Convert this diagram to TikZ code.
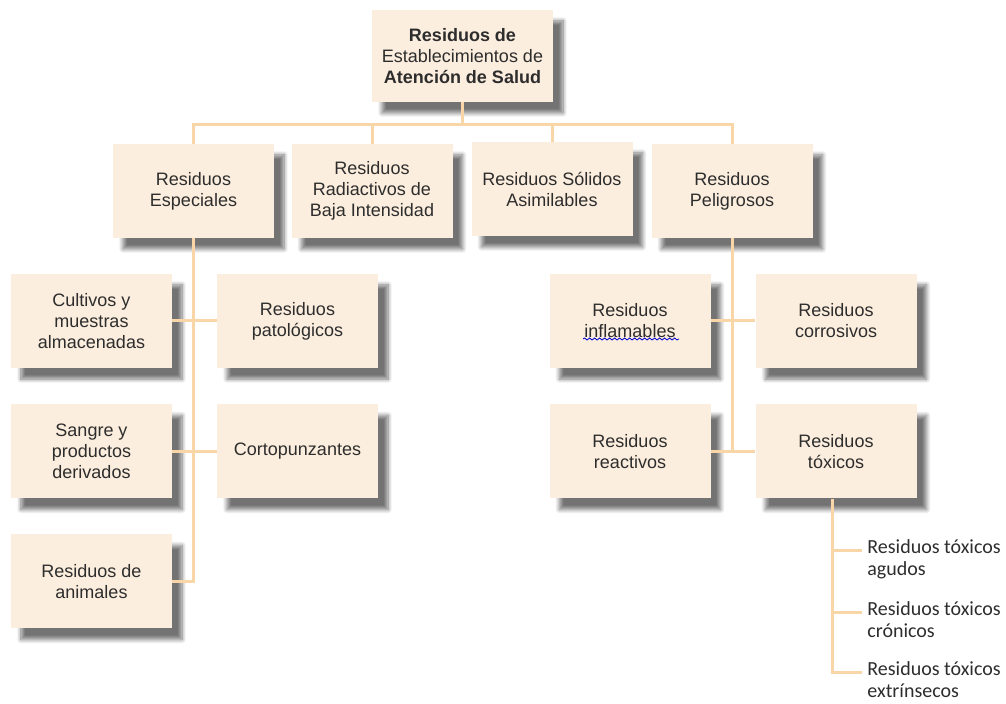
\documentclass[tikz,border=0pt]{standalone}
\usepackage{fontspec}
\setmainfont{Liberation Sans}
\newfontfamily\leaffont{Carlito}
\usetikzlibrary{shadows.blur,calc,decorations.pathmorphing}
\definecolor{boxfill}{RGB}{252,238,222}
\definecolor{linkcol}{RGB}{249,214,168}
\definecolor{inkgray}{RGB}{45,45,45}

\begin{document}
\begin{tikzpicture}[x=0.5pt,y=-0.5pt,inner sep=0pt,
                    font=\fontsize{9}{10.5}\selectfont]
  \tikzstyle{box}=[fill=boxfill,text=inkgray,align=center,minimum width=80.5pt,minimum height=47pt,
                   blur shadow={shadow xshift=5pt,shadow yshift=-5.5pt,shadow blur steps=8,shadow opacity=55}]
  \tikzstyle{link}=[draw=linkcol,line width=1.5pt]
  \tikzstyle{leaf}=[text=inkgray,align=left,anchor=north west,font=\leaffont\fontsize{10}{11}\selectfont]

  \useasboundingbox (0,0) rectangle (1006,704);

  % top
  \node[box,minimum width=90.5pt,minimum height=46pt] (root) at (462.5,56) {\textbf{Residuos de}\\Establecimientos de\\\textbf{Atención de Salud}};

  % second level
  \node[box] (esp) at (193.5,191) {Residuos\\Especiales};
  \node[box] (rad) at (372,191)   {Residuos\\Radiactivos de\\Baja Intensidad};
  \node[box] (sol) at (552,189)   {Residuos Sólidos\\Asimilables};
  \node[box] (pel) at (732,191)   {Residuos\\Peligrosos};

  % especiales
  \node[box] (cul) at (91.5,321)   {Cultivos y\\muestras\\almacenadas};
  \node[box] (pat) at (297.5,321)  {Residuos\\patológicos};
  \node[box] (san) at (91.5,451.5) {Sangre y\\productos\\derivados};
  \node[box] (cor) at (297.5,451.5){Cortopunzantes};
  \node[box] (ani) at (91.5,581.5) {Residuos de\\animales};

  % peligrosos
  \node[box] (inf) at (630,321)   {Residuos\\inflamables};
  \node[box] (crr) at (836,321)   {Residuos\\corrosivos};
  \node[box] (rea) at (630,451.5) {Residuos\\reactivos};
  \node[box] (tox) at (836,451.5) {Residuos\\tóxicos};

  % toxicos
  \node[leaf] (ag) at (867,539) {Residuos tóxicos\\agudos};
  \node[leaf] (cr) at (867,601) {Residuos tóxicos\\crónicos};
  \node[leaf] (ex) at (867,661) {Residuos tóxicos\\extrínsecos};

  \coordinate (bus) at (462.5,125);
  \draw[link] (root.south) -- (bus);
  \draw[link] (esp.north) |- (bus) -| (pel.north);
  \draw[link] (rad.north) -- (rad.north |- bus);
  \draw[link] (sol.north) -- (sol.north |- bus);

  \draw[link] (esp.south) |- (ani.east);
  \draw[link] (cul.east) -- (pat.west);
  \draw[link] (san.east) -- (cor.west);

  \draw[link] (pel.south) -- (pel.south |- rea.east);
  \draw[link] (inf.east) -- (crr.west);
  \draw[link] (rea.east) -- (tox.west);

  \coordinate (trunk) at ($(tox.south)+(-4,0)$);
  \coordinate (agk) at ($(ag.north west)+(-5,12)$);
  \coordinate (crk) at ($(cr.north west)+(-5,12)$);
  \coordinate (exk) at ($(ex.north west)+(-5,12)$);
  \draw[link] (trunk) |- (exk);
  \draw[link] (trunk |- agk) -- (agk);
  \draw[link] (trunk |- crk) -- (crk);

  % spell check wave
  \draw[blue!80!black,line width=0.4pt,decorate,decoration={snake,amplitude=0.5pt,segment length=2.5pt}]
    ($(inf.center)+(-47,18)$) -- ($(inf.center)+(49,18)$);
\end{tikzpicture}
\end{document}
